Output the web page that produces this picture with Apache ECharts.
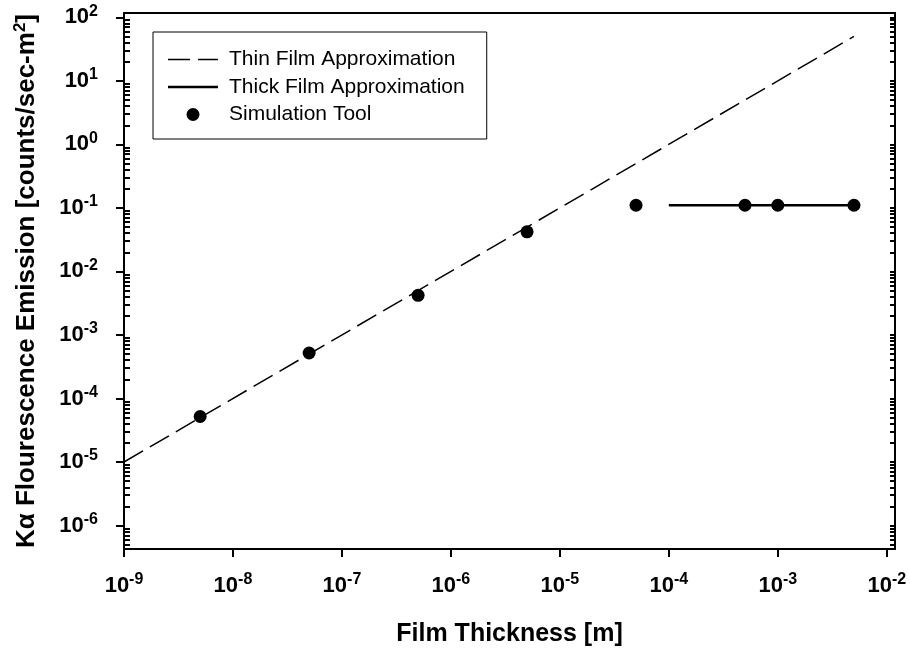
<!DOCTYPE html>
<html>
<head>
<meta charset="utf-8">
<script src="https://cdn.jsdelivr.net/npm/echarts@6/dist/echarts.min.js"></script>
<style>
  html, body { margin: 0; padding: 0; background: #fff; }
  #chart { width: 910px; height: 652px; }
</style>
</head>
<body>
<div id="chart"></div>
<script>
// Thin film approximation (straight line on log-log axes)
const thinX = [1e-9, 5e-3];
const thinY = [1e-5, 50];
// Thick film approximation (saturated emission)
const thickX = [1e-4, 5e-3];
const thickY = [0.11, 0.11];
// Simulation results
const simX = [5e-9, 5e-8, 5e-7, 5e-6, 5e-5, 5e-4, 1e-3, 5e-3];
const simY = [5.2e-5, 5.2e-4, 4.2e-3, 4.2e-2, 0.11, 0.11, 0.11, 0.11];
// Decade tick positions
const xDecades = [1e-9, 1e-8, 1e-7, 1e-6, 1e-5, 1e-4, 1e-3, 1e-2];
const yDecades = [1e-6, 1e-5, 1e-4, 1e-3, 1e-2, 1e-1, 1e0, 1e1, 1e2];

const X_MIN = 1e-9, X_MAX = 1.19e-2;
const Y_MIN = 4.27e-7, Y_MAX = 117;

// minor ticks 2..9 x 10^k inside the visible range
const yMinor = [];
for (let k = -7; k <= 2; k++) {
  for (let m = 2; m <= 9; m++) {
    const v = m * Math.pow(10, k);
    if (v > Y_MIN && v < Y_MAX) yMinor.push(v);
  }
}
const yAllTicks = yDecades.concat(yMinor).sort((a, b) => a - b);

const FONT = "'Liberation Sans', Arial, sans-serif";
const powLabel = v => {
  const e = Math.round(Math.log10(v));
  return '{b|10}{e|' + e + '}';
};
const labelRich = {
  b: { fontSize: 22, fontWeight: 'bold', fontFamily: FONT, color: '#000' },
  e: { fontSize: 16, fontWeight: 'bold', fontFamily: FONT, color: '#000', padding: [0, 0, 12, 0] }
};
const lineStyle = { color: '#000', width: 2 };

// legend glyphs: dashed and solid line samples
const dashIcon = 'path://M0,0h22v1.5h-22z M30,0h20v1.5h-20z';
const solidIcon = 'path://M0,0h50v2.7h-50z';

const chart = echarts.init(document.getElementById('chart'), null, { renderer: 'canvas' });
chart.setOption({
  animation: false,
  backgroundColor: '#fff',
  grid: { left: 124, right: 15, top: 13, bottom: 99, containLabel: false },
  legend: {
    orient: 'vertical',
    left: 153, top: 32,
    padding: [17, 22, 14, 15],
    borderColor: '#000', borderWidth: 1,
    itemWidth: 50, itemHeight: 13, itemGap: 6.5,
    itemStyle: { color: '#000', opacity: 1 },
    textStyle: { fontSize: 21, lineHeight: 20, fontFamily: FONT, color: '#000', padding: [0, 0, 0, 6] },
    data: [
      { name: 'Thin Film Approximation', icon: dashIcon },
      { name: 'Thick Film Approximation', icon: solidIcon },
      { name: 'Simulation Tool', icon: 'circle' }
    ]
  },
  xAxis: [
    {
      type: 'log', logBase: 10, min: X_MIN, max: X_MAX, position: 'bottom',
      name: 'Film Thickness [m]', nameLocation: 'middle', nameGap: 73,
      nameTextStyle: { fontSize: 25, fontWeight: 'bold', fontFamily: FONT, color: '#000' },
      axisLine: { lineStyle },
      axisTick: { show: true, inside: false, length: 8, lineStyle: { color: '#000', width: 2 }, customValues: xDecades },
      axisLabel: { margin: 23, formatter: powLabel, rich: labelRich, customValues: xDecades },
      splitLine: { show: false }, minorTick: { show: false }
    },
    {
      type: 'log', logBase: 10, min: X_MIN, max: X_MAX, position: 'top',
      axisLine: { lineStyle }, axisTick: { show: false }, axisLabel: { show: false },
      splitLine: { show: false }
    }
  ],
  yAxis: [
    {
      type: 'log', logBase: 10, min: Y_MIN, max: Y_MAX, position: 'left',
      name: '{a|Kα Flourescence Emission [counts/sec-m}{s|2}{a|]}',
      nameLocation: 'middle', nameGap: 82,
      nameTextStyle: {
        rich: {
          a: { fontSize: 26, fontWeight: 'bold', fontFamily: FONT, color: '#000' },
          s: { fontSize: 17, fontWeight: 'bold', fontFamily: FONT, color: '#000', padding: [0, 0, 13, 0] }
        }
      },
      axisLine: { lineStyle },
      axisTick: { show: true, inside: false, length: 8, lineStyle: { color: '#000', width: 2 }, customValues: yDecades },
      axisLabel: { margin: 26, formatter: powLabel, rich: labelRich, customValues: yDecades },
      splitLine: { show: false }, minorTick: { show: false }
    },
    {
      type: 'log', logBase: 10, min: Y_MIN, max: Y_MAX, position: 'left',
      axisLine: { show: false },
      axisTick: { show: true, inside: true, length: 6, lineStyle: { color: '#000', width: 2 }, customValues: yMinor },
      axisLabel: { show: false }, splitLine: { show: false }
    },
    {
      type: 'log', logBase: 10, min: Y_MIN, max: Y_MAX, position: 'right',
      axisLine: { lineStyle },
      axisTick: { show: true, inside: true, length: 5, lineStyle: { color: '#000', width: 2 }, customValues: yAllTicks },
      axisLabel: { show: false }, splitLine: { show: false }
    }
  ],
  series: [
    {
      name: 'Thin Film Approximation', type: 'line', symbol: 'none',
      xAxisIndex: 0, yAxisIndex: 0,
      lineStyle: { color: '#000', width: 1.5, type: [22, 8] },
      itemStyle: { color: '#000' },
      data: thinX.map((x, i) => [x, thinY[i]])
    },
    {
      name: 'Thick Film Approximation', type: 'line', symbol: 'none',
      xAxisIndex: 0, yAxisIndex: 0,
      lineStyle: { color: '#000', width: 2.7 },
      itemStyle: { color: '#000' },
      data: thickX.map((x, i) => [x, thickY[i]])
    },
    {
      name: 'Simulation Tool', type: 'scatter', symbol: 'circle', symbolSize: 13,
      xAxisIndex: 0, yAxisIndex: 0,
      itemStyle: { color: '#000', opacity: 1 },
      data: simX.map((x, i) => [x, simY[i]]),
      z: 5
    }
  ]
});
</script>
</body>
</html>
